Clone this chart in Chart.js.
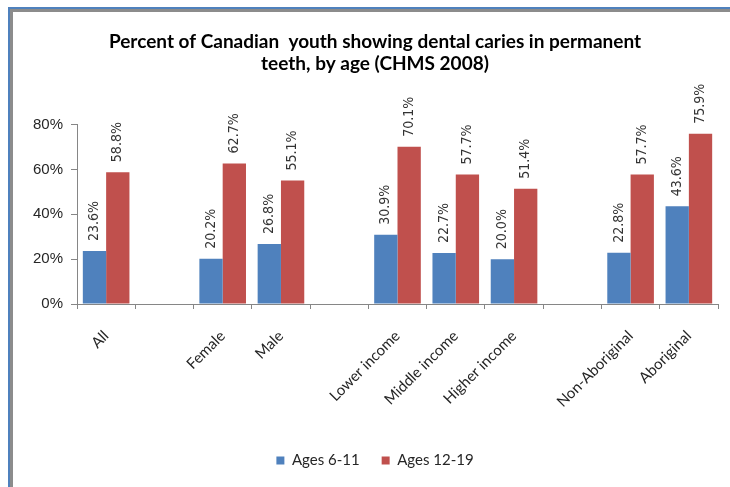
<!DOCTYPE html>
<html>
<head>
<meta charset="utf-8">
<script src="https://cdn.jsdelivr.net/npm/chart.js@4.4.0/dist/chart.umd.min.js"></script>
<style>
    html, body { margin: 0; padding: 0; background: #fff; }
    body { width: 730px; height: 487px; position: relative; overflow: hidden; }
    /* frame edges along the top and left */
    .frame-outer { position: absolute; left: 8px; top: 7px; right: -20px; bottom: -20px;
        border-left: 2px solid #4f81bd; border-top: 2px solid #4f81bd; }
    .frame-inner { position: absolute; left: 0; top: 0; right: 0; bottom: 0;
        border-left: 3px solid #8c8c8c; border-top: 3px solid #8c8c8c; }
    #wrap { position: absolute; left: 0; top: 0; width: 730px; height: 487px; }
</style>
</head>
<body>
<div class="frame-outer"><div class="frame-inner"></div></div>
<div id="wrap"><canvas id="cariesChart"></canvas></div>
<script>
// Groups, with blank slots between them
const groups = ['All', '', 'Female', 'Male', '', 'Lower income', 'Middle income', 'Higher income', '', 'Non-Aboriginal', 'Aboriginal'];

// Percent with caries in permanent teeth
const ages6to11 = [23.6, null, 20.2, 26.8, null, 30.9, 22.7, 20.0, null, 22.8, 43.6];
const ages12to19 = [58.8, null, 62.7, 55.1, null, 70.1, 57.7, 51.4, null, 57.7, 75.9];

const yTicks = [0, 20, 40, 60, 80];

const axisGray = '#868686';

// Vertical value labels above each bar
const barValueLabels = {
    id: 'barValueLabels',
    afterDatasetsDraw(chart) {
        const ctx = chart.ctx;
        ctx.save();
        ctx.font = '14px "DejaVu Sans Condensed", "DejaVu Sans", sans-serif';
        ctx.fillStyle = '#333333';
        ctx.textAlign = 'left';
        ctx.textBaseline = 'middle';
        chart.data.datasets.forEach((ds, i) => {
            const meta = chart.getDatasetMeta(i);
            meta.data.forEach((bar, j) => {
                const v = ds.data[j];
                if (v === null) return;
                ctx.save();
                ctx.translate(bar.x, bar.y - 10);
                ctx.rotate(-Math.PI / 2);
                ctx.fillText(v.toFixed(1) + '%', 0, 0);
                ctx.restore();
            });
        });
        ctx.restore();
    }
};

const ctx = document.getElementById('cariesChart').getContext('2d');
const chart = new Chart(ctx, {
    type: 'bar',
    data: {
        labels: groups,
        datasets: [{
            label: 'Ages 6-11',
            data: ages6to11,
            backgroundColor: '#4f81bd',
            categoryPercentage: 0.8,
            barPercentage: 1.0
        }, {
            label: 'Ages 12-19',
            data: ages12to19,
            backgroundColor: '#c0504d',
            categoryPercentage: 0.8,
            barPercentage: 1.0
        }]
    },
    options: {
        responsive: true,
        maintainAspectRatio: false,
        animation: false,
        layout: {
            padding: { left: 32, right: 12, top: 0, bottom: 9 }
        },
        plugins: {
            title: {
                display: true,
                text: ['Percent of Canadian  youth showing dental caries in permanent', 'teeth, by age (CHMS 2008)'],
                color: '#000000',
                font: { family: 'Lato', size: 19, weight: 'bold', lineHeight: 1.2 },
                padding: { top: 30, bottom: 49 }
            },
            legend: {
                position: 'bottom',
                labels: {
                    color: '#262626',
                    font: { family: 'Lato', size: 15 },
                    boxWidth: 8,
                    boxHeight: 8,
                    padding: 22
                }
            },
            tooltip: { enabled: false }
        },
        scales: {
            x: {
                grid: {
                    display: true,
                    drawOnChartArea: false,
                    drawTicks: true,
                    tickLength: 5,
                    color: axisGray
                },
                border: { color: axisGray },
                ticks: {
                    color: '#262626',
                    font: { family: 'Lato', size: 15 },
                    minRotation: 45,
                    maxRotation: 45,
                    padding: 18,
                    autoSkip: false
                },
                afterFit(scale) {
                    scale.height = 127;
                }
            },
            y: {
                min: 0,
                max: 80,
                afterBuildTicks(scale) {
                    scale.ticks = yTicks.map(v => ({ value: v }));
                },
                grid: {
                    drawOnChartArea: false,
                    drawTicks: true,
                    tickLength: 6,
                    color: axisGray
                },
                border: { color: axisGray },
                ticks: {
                    color: '#262626',
                    font: { family: '"Liberation Sans", Arial, sans-serif', size: 15 },
                    padding: 8,
                    callback: v => v + '%'
                },
                afterFit(scale) {
                    scale.width = 45;
                }
            }
        }
    },
    plugins: [barValueLabels]
});
</script>
</body>
</html>
